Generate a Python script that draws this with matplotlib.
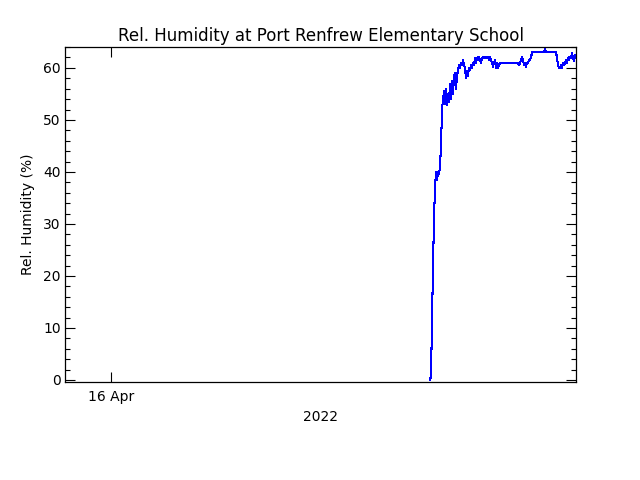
import numpy as np
import matplotlib
matplotlib.use("Agg")
import matplotlib.pyplot as plt
import matplotlib.dates as mdates
from matplotlib.ticker import MultipleLocator

# readings every 3 minutes, starting 16 Apr 2022 15:57
start_time = np.datetime64("2022-04-16T15:57")
step = np.timedelta64(3, "m")
humidity = [
    0, 0.8, 12, 22, 31, 37, 40, 38.5, 40, 39.5,
    41, 45, 52, 54, 55.5, 53, 56, 52.8, 55, 53.5,
    57, 54, 57.5, 55, 58.5, 59, 56, 58.5, 59.5, 60.5,
    60, 61, 60.5, 61.5, 60.5, 60, 58, 59.5, 58.5, 60,
    59.5, 60.5, 60, 61, 60.5, 62, 61, 62, 61.5, 62,
    61.5, 61, 61.8, 62, 62, 62, 62, 62, 62, 61.5,
    62, 61.5, 61, 60.2, 61, 61.5, 60, 61, 60, 60.5,
    61, 61, 61, 61, 61, 61, 61, 61, 61, 61,
    61, 61, 61, 61, 61, 61, 61, 61, 61, 60.5,
    61, 61.5, 62, 61.5, 60.5, 61, 60.2, 61, 61, 61.5,
    61.5, 62, 63, 63, 63, 63, 63, 63, 63, 63,
    63, 63, 63, 63, 63, 63.8, 63, 63, 63, 63,
    63, 63, 63, 63, 63, 63, 63, 62, 60.5, 60,
    60, 60.5, 60, 61, 60.5, 61, 61.5, 61, 62, 61.5,
    62, 62, 62.8, 62, 61.3, 62.5,
]
times = start_time + step * np.arange(len(humidity))

x_start = np.datetime64("2022-04-15T21:42")
x_end = np.datetime64("2022-04-16T23:15")

plt.rcParams["font.family"] = ["DejaVu Sans"]
fig = plt.figure(figsize=(6.4, 4.8), dpi=100)
ax = fig.add_axes([0.1016, 0.204, 0.7984, 0.699])

ax.plot(times.astype("datetime64[s]").astype(object), humidity,
        color="#0000ff", linewidth=0.75, antialiased=False)

ax.set_xlim(x_start.astype(object), x_end.astype(object))
ax.set_ylim(-0.4, 64.1)

ax.xaxis.set_major_locator(mdates.DayLocator())
ax.xaxis.set_major_formatter(mdates.DateFormatter("%d %b"))
ax.yaxis.set_major_locator(MultipleLocator(10))
ax.yaxis.set_minor_locator(MultipleLocator(2))

ax.tick_params(which="both", direction="in", top=True, right=True,
               width=0.8, colors="black", labelsize=10)
ax.tick_params(which="major", length=7.2)
ax.tick_params(which="minor", length=3.6)
ax.tick_params(axis="x", pad=6)
ax.tick_params(axis="y", pad=3)
for s in ax.spines.values():
    s.set_linewidth(0.9)

ax.set_title("Rel. Humidity at Port Renfrew Elementary School", fontsize=12, pad=4)
ax.set_ylabel("Rel. Humidity (%)", fontsize=10, labelpad=6)
ax.set_xlabel("2022", fontsize=10, labelpad=4)

fig.savefig("out.png", dpi=100)
